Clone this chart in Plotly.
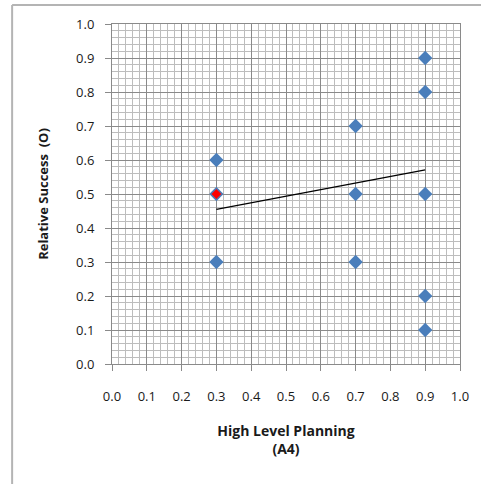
import plotly.graph_objects as go

# Observations: high level planning score (A4) vs relative success (O)
planning = [0.3, 0.3, 0.3, 0.7, 0.7, 0.7, 0.9, 0.9, 0.9, 0.9, 0.9]
success = [0.6, 0.5, 0.3, 0.7, 0.5, 0.3, 0.9, 0.8, 0.5, 0.2, 0.1]

# Highlighted observation
highlight_x = [0.3]
highlight_y = [0.5]

# Linear trend line end points
trend_x = [0.3, 0.9]
trend_y = [0.455, 0.571]

tick_vals = [round(i * 0.1, 1) for i in range(11)]
tick_text = [f"{v:.1f}" for v in tick_vals]

FONT = "Open Sans, Lato, sans-serif"

fig = go.Figure()
fig.add_trace(go.Scatter(
    x=planning, y=success, mode="markers",
    marker=dict(symbol="diamond", size=11, color="#4a7ebb"),
    showlegend=False, hoverinfo="x+y",
))
fig.add_trace(go.Scatter(
    x=trend_x, y=trend_y, mode="lines",
    line=dict(color="#000000", width=1.3),
    showlegend=False, hoverinfo="skip",
))
fig.add_trace(go.Scatter(
    x=highlight_x, y=highlight_y, mode="markers",
    marker=dict(symbol="diamond", size=8, color="#ff0000",
                line=dict(color="#4a7ebb", width=0.5)),
    showlegend=False, hoverinfo="x+y",
))

axis_common = dict(
    range=[0, 1],
    tickmode="array",
    tickvals=tick_vals,
    ticktext=tick_text,
    showgrid=True,
    gridcolor="#8a8a8a",
    gridwidth=1,
    minor=dict(dtick=0.02, showgrid=True, gridcolor="#bdbdbd", gridwidth=1, ticks=""),
    showline=True,
    linecolor="#8a8a8a",
    linewidth=1,
    mirror=True,
    ticks="outside",
    ticklen=6,
    tickcolor="#8a8a8a",
    zeroline=False,
    tickfont=dict(family=FONT, size=13, color="#1a1a1a"),
    fixedrange=True,
)

fig.update_layout(
    width=481, height=484,
    margin=dict(l=112, r=21, t=24, b=120),
    paper_bgcolor="white",
    plot_bgcolor="white",
    xaxis=dict(
        **axis_common,
        ticklabelstandoff=14,
        title=dict(text="<b>High Level Planning<br>(A4)</b>",
                   font=dict(family=FONT, size=14, color="#1a1a1a"),
                   standoff=22),
    ),
    yaxis=dict(
        **axis_common,
        ticklabelstandoff=8,
        title=dict(text="<b>Relative Success  (O)</b>",
                   font=dict(family=FONT, size=13, color="#1a1a1a"),
                   standoff=24),
    ),
    shapes=[
        # outer chart frame (left and top edges)
        dict(type="line", xref="paper", yref="paper",
             x0=-0.287, x1=-0.287, y0=1.056, y1=-0.5,
             line=dict(color="#b4b4b4", width=2)),
        dict(type="line", xref="paper", yref="paper",
             x0=-0.287, x1=1.2, y0=1.056, y1=1.056,
             line=dict(color="#b4b4b4", width=2)),
    ],
)

fig.write_html("out.html")
